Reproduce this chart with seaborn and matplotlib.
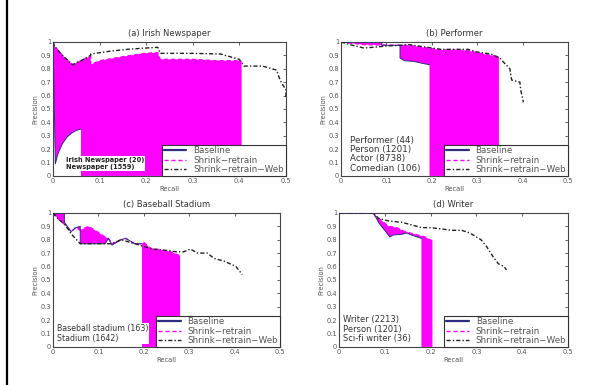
import numpy as np
import matplotlib
matplotlib.use("Agg")
import matplotlib.pyplot as plt
from matplotlib.lines import Line2D
import seaborn as sns

# panel titles and category notes
titles = ["(a) Irish Newspaper", "(b) Performer", "(c) Baseball Stadium", "(d) Writer"]
notes = [
    "Irish Newspaper (20)\nNewspaper (1559)",
    "Performer (44)\nPerson (1201)\nActor (8738)\nComedian (106)",
    "Baseball stadium (163)\nStadium (1642)",
    "Writer (2213)\nPerson (1201)\nSci-fi writer (36)",
]
series_names = ["Baseline", "Shrink\u2212retrain", "Shrink\u2212retrain\u2212Web"]

# (a) Irish Newspaper
a_base_x = [0, 0.005, 0.01, 0.02, 0.03, 0.04, 0.05, 0.06, 0.06]
a_base_y = [1, 0.09, 0.16, 0.24, 0.29, 0.32, 0.34, 0.35, 0]
a_shr_x = [0, 0.003, 0.02, 0.042, 0.06, 0.081, 0.081, 0.1, 0.15, 0.197, 0.225, 0.23, 0.3, 0.35, 0.4, 0.405, 0.405]
a_shr_y = [1, 0.97, 0.90, 0.83, 0.86, 0.895, 0.83, 0.86, 0.89, 0.915, 0.92, 0.87, 0.87, 0.86, 0.86, 0.85, 0]
a_web_x = [0, 0.003, 0.02, 0.042, 0.06, 0.081, 0.081, 0.12, 0.16, 0.2, 0.225, 0.23, 0.3, 0.36, 0.4, 0.41, 0.42, 0.45, 0.47, 0.48, 0.485, 0.49, 0.495, 0.5, 0.5]
a_web_y = [1, 0.97, 0.90, 0.83, 0.86, 0.90, 0.91, 0.93, 0.945, 0.955, 0.96, 0.915, 0.915, 0.91, 0.87, 0.82, 0.82, 0.82, 0.80, 0.79, 0.74, 0.70, 0.67, 0.65, 0.59]

# (b) Performer
b_base_x = [0, 0.09, 0.09, 0.13, 0.13, 0.14, 0.16, 0.18, 0.195, 0.195]
b_base_y = [1, 1, 0.975, 0.975, 0.88, 0.86, 0.855, 0.84, 0.83, 0]
b_shr_x = [0, 0.05, 0.13, 0.15, 0.17, 0.2, 0.22, 0.25, 0.28, 0.3, 0.32, 0.348, 0.348]
b_shr_y = [1, 0.98, 0.975, 0.975, 0.965, 0.95, 0.94, 0.94, 0.935, 0.92, 0.905, 0.89, 0]
b_web_x = [0, 0.02, 0.05, 0.07, 0.1, 0.13, 0.15, 0.17, 0.2, 0.22, 0.25, 0.28, 0.3, 0.33, 0.35, 0.357, 0.372, 0.376, 0.394, 0.396, 0.402]
b_web_y = [1, 0.98, 0.955, 0.96, 0.97, 0.975, 0.98, 0.97, 0.955, 0.945, 0.945, 0.945, 0.925, 0.91, 0.88, 0.853, 0.80, 0.716, 0.70, 0.64, 0.55]

# (c) Baseball Stadium
c_base_x = [0, 0.025, 0.025, 0.04, 0.05, 0.06, 0.06, 0.09, 0.115, 0.122, 0.13, 0.15, 0.16, 0.18, 0.196, 0.196]
c_base_y = [1, 1, 0.93, 0.86, 0.89, 0.90, 0.77, 0.77, 0.77, 0.81, 0.76, 0.80, 0.81, 0.77, 0.77, 0]
c_shr_x = [0, 0.01, 0.027, 0.04, 0.05, 0.06, 0.078, 0.097, 0.115, 0.122, 0.13, 0.15, 0.16, 0.18, 0.196, 0.2, 0.215, 0.237, 0.259, 0.28, 0.28]
c_shr_y = [1, 0.96, 0.91, 0.86, 0.89, 0.87, 0.90, 0.86, 0.82, 0.81, 0.77, 0.80, 0.81, 0.77, 0.77, 0.78, 0.735, 0.725, 0.71, 0.68, 0]
c_web_x = [0, 0.01, 0.027, 0.041, 0.06, 0.115, 0.13, 0.15, 0.18, 0.2, 0.22, 0.25, 0.27, 0.288, 0.303, 0.318, 0.34, 0.355, 0.377, 0.403, 0.417]
c_web_y = [1, 0.96, 0.91, 0.84, 0.77, 0.77, 0.77, 0.80, 0.77, 0.75, 0.73, 0.72, 0.71, 0.71, 0.73, 0.70, 0.70, 0.66, 0.64, 0.60, 0.54]

# (d) Writer
d_base_x = [0, 0.075, 0.08, 0.088, 0.1, 0.111, 0.118, 0.137, 0.148, 0.158, 0.18, 0.18]
d_base_y = [1, 1, 0.97, 0.92, 0.87, 0.82, 0.835, 0.84, 0.85, 0.835, 0.81, 0]
d_shr_x = [0, 0.075, 0.08, 0.09, 0.108, 0.126, 0.144, 0.166, 0.188, 0.204, 0.204]
d_shr_y = [1, 1, 0.97, 0.95, 0.90, 0.89, 0.86, 0.84, 0.82, 0.79, 0]
d_web_x = [0, 0.075, 0.086, 0.108, 0.137, 0.159, 0.18, 0.2, 0.224, 0.246, 0.268, 0.286, 0.3, 0.31, 0.322, 0.337, 0.348, 0.36, 0.366]
d_web_y = [1, 1, 0.96, 0.94, 0.93, 0.91, 0.89, 0.89, 0.88, 0.87, 0.87, 0.85, 0.82, 0.80, 0.75, 0.67, 0.62, 0.60, 0.575]

panels = [
    (a_base_x, a_base_y, a_shr_x, a_shr_y, a_web_x, a_web_y),
    (b_base_x, b_base_y, b_shr_x, b_shr_y, b_web_x, b_web_y),
    (c_base_x, c_base_y, c_shr_x, c_shr_y, c_web_x, c_web_y),
    (d_base_x, d_base_y, d_shr_x, d_shr_y, d_web_x, d_web_y),
]

# axes boxes in figure fraction (left, bottom, width, height)
boxes = [
    (0.0897, 0.543, 0.394, 0.348),
    (0.577, 0.543, 0.384, 0.348),
    (0.0897, 0.099, 0.384, 0.348),
    (0.5736, 0.099, 0.3875, 0.348),
]
note_pos = [(0.028, 0.045), (0.02, 0.025), (0.008, 0.03), (0.008, 0.03)]
note_size = [4.8, 6.3, 5.7, 6.0]

sns.set_theme(style="white")
plt.rcParams["font.family"] = ["DejaVu Sans"]

BLUE = "#2e2e80"
MAGENTA = "#ff00ff"
GREY = "#555555"

fig = plt.figure(figsize=(5.91, 3.85), dpi=100)
fig.patch.set_facecolor("white")

for i, (bx, by, sx, sy, wx, wy) in enumerate(panels):
    ax = fig.add_axes(boxes[i])
    # filled region between shrink-retrain and baseline curves
    ax.fill(np.r_[sx, bx[::-1]], np.r_[sy, by[::-1]], color=MAGENTA, lw=0, zorder=1)
    # curves drawn without their closing drop to zero
    sns.lineplot(x=bx[:-1], y=by[:-1], ax=ax, sort=False, estimator=None, color=BLUE,
                 lw=0.7, label=series_names[0], zorder=3)
    sns.lineplot(x=sx[:-1], y=sy[:-1], ax=ax, sort=False, estimator=None, color=MAGENTA,
                 lw=1.0, linestyle=(0, (3, 2)), label=series_names[1], zorder=2)
    sns.lineplot(x=wx, y=wy, ax=ax, sort=False, estimator=None, color="#222222",
                 lw=1.0, linestyle=(0, (3, 1.5, 1, 1.5)), label=series_names[2], zorder=4)

    ax.set_xlim(0, 0.5)
    ax.set_ylim(0, 1)
    ax.set_xticks(np.arange(0, 0.51, 0.1))
    ax.set_xticklabels(["0", "0.1", "0.2", "0.3", "0.4", "0.5"])
    ax.set_yticks(np.arange(0, 1.01, 0.1))
    ax.set_yticklabels(["0", "0.1", "0.2", "0.3", "0.4", "0.5", "0.6", "0.7", "0.8", "0.9", "1"])
    ax.tick_params(direction="in", top=True, right=True, length=2.5, width=0.6,
                   labelsize=4.8, labelcolor=GREY, color="#444444", pad=1.5)
    for sp in ax.spines.values():
        sp.set_color("#444444")
        sp.set_linewidth(0.8)
    ax.set_xlabel("Recall", fontsize=4.8, color=GREY, labelpad=1.5)
    ax.set_ylabel("Precision", fontsize=4.8, color=GREY, labelpad=1.5)
    ax.set_title(titles[i], fontsize=6, color="#333333", pad=4)

    leg = ax.legend(loc="lower right", fontsize=6.3, frameon=True, fancybox=False,
                    framealpha=1, borderaxespad=0, handlelength=2.6, handletextpad=0.8,
                    labelspacing=0.05, borderpad=0.2)
    leg.get_frame().set_edgecolor("#333333")
    leg.get_frame().set_linewidth(0.8)
    leg.legend_handles[0].set_linewidth(1.6)
    for t in leg.get_texts():
        t.set_color(GREY)

    nx, ny = note_pos[i]
    if i == 0:
        ax.text(nx, ny, notes[i], fontsize=note_size[i], fontweight="bold", color="#222222",
                linespacing=1.15, va="bottom", ha="left", zorder=5,
                bbox=dict(facecolor="white", edgecolor="none", pad=0.5))
    elif i == 2:
        ax.text(nx, ny, notes[i], fontsize=note_size[i], color="#333333",
                linespacing=1.1, va="bottom", ha="left", zorder=5,
                bbox=dict(facecolor="white", edgecolor="none", pad=0.5))
    else:
        ax.text(nx, ny, notes[i], fontsize=note_size[i], color="#333333",
                linespacing=1.05, va="bottom", ha="left", zorder=5)

# black rule down the left edge
fig.add_artist(Line2D([0.012, 0.012], [0, 1], color="black", lw=1.6))

fig.savefig("out.png", dpi=100, facecolor="white")
